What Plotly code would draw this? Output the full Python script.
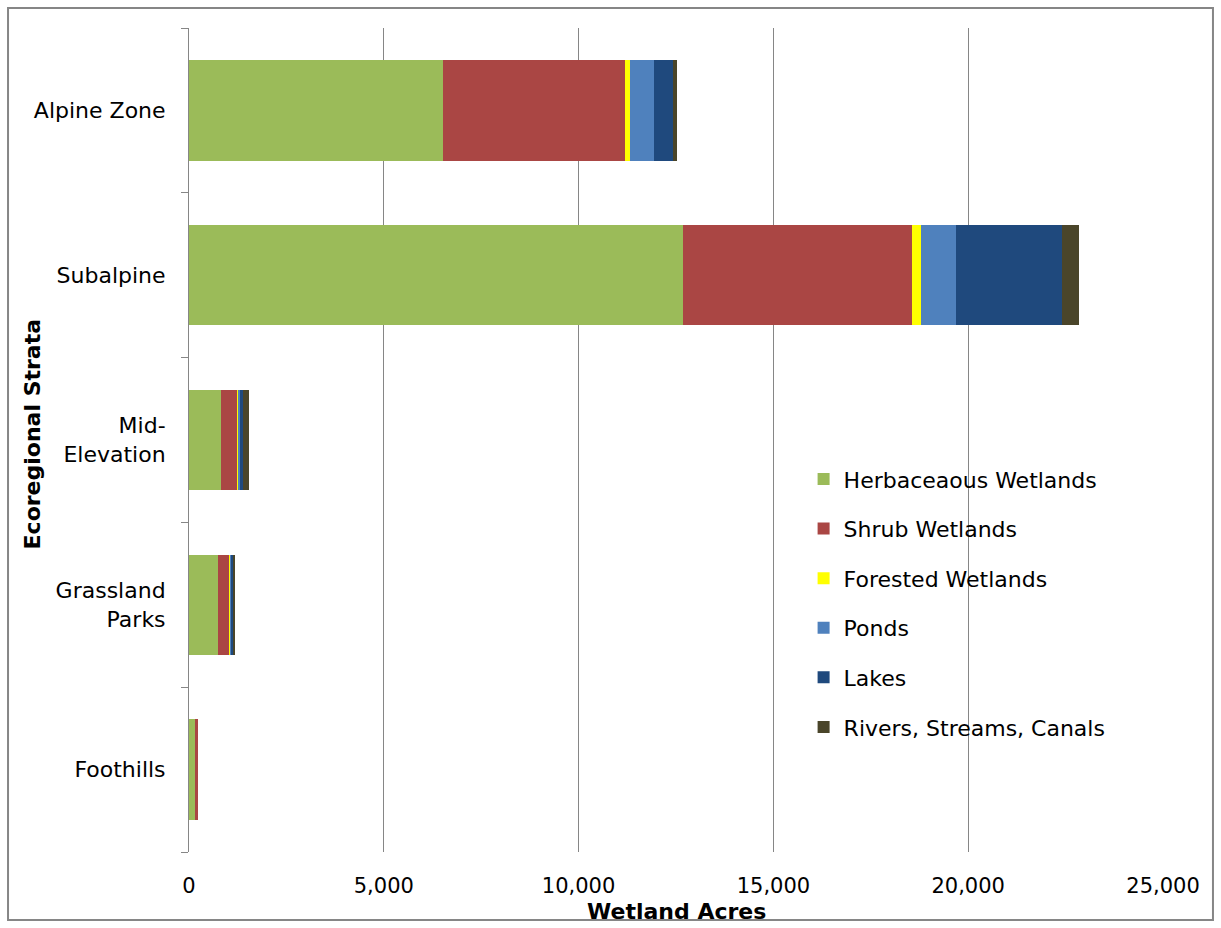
import plotly.graph_objects as go

categories = ["Foothills", "Grassland<br>Parks", "Mid-<br>Elevation", "Subalpine", "Alpine Zone"]
herbaceous = [160, 750, 820, 12680, 6520]
shrub = [60, 300, 420, 5870, 4660]
forested = [0, 10, 25, 230, 135]
ponds = [0, 40, 35, 915, 620]
lakes = [0, 45, 90, 2705, 495]
rivers = [0, 25, 150, 450, 105]

series = [
    ("Herbaceaous Wetlands", herbaceous, "#9BBB59"),
    ("Shrub Wetlands", shrub, "#AA4644"),
    ("Forested Wetlands", forested, "#FFFF00"),
    ("Ponds", ponds, "#4F81BD"),
    ("Lakes", lakes, "#1F497D"),
    ("Rivers, Streams, Canals", rivers, "#4A452A"),
]

fig = go.Figure()
for i, (name, vals, col) in enumerate(series):
    fig.add_trace(go.Bar(
        y=categories, x=vals, name=name, orientation="h",
        marker=dict(color=col, line=dict(width=0)),
        legendgroup=f"g{i}",
    ))

font_family = "DejaVu Sans, sans-serif"
fig.update_layout(
    barmode="stack",
    bargap=0.39,
    width=1221, height=928,
    margin=dict(l=189, r=58, t=28, b=76),
    plot_bgcolor="white", paper_bgcolor="white",
    font=dict(family=font_family, size=22, color="#000000"),
    legend=dict(
        x=0.631, y=0.478, xanchor="left", yanchor="top",
        font=dict(size=22), tracegroupgap=18,
        bgcolor="rgba(0,0,0,0)",
    ),
    xaxis=dict(
        range=[0, 25000], tickvals=[0, 5000, 10000, 15000, 20000, 25000],
        ticktext=["0", "5,000", "10,000", "15,000", "20,000", "25,000"],
        showgrid=True, gridcolor="#868686", gridwidth=1,
        zeroline=False, showline=False, ticks="",
        tickfont=dict(size=21), ticklabelstandoff=19,
    ),
    yaxis=dict(
        categoryorder="array", categoryarray=categories,
        showline=True, linecolor="#868686", linewidth=1,
        ticks="outside", tickson="boundaries", ticklen=7, tickcolor="#868686",
        tickfont=dict(size=22), ticklabelstandoff=18,
    ),
    annotations=[
        dict(text="<b>Wetland Acres</b>", xref="paper", yref="paper",
             x=0.5, y=-0.0728, xanchor="center", yanchor="middle",
             showarrow=False, font=dict(size=22)),
        dict(text="<b>Ecoregional Strata</b>", xref="paper", yref="paper",
             x=-0.161, y=0.507, xanchor="center", yanchor="middle",
             textangle=-90, showarrow=False, font=dict(size=22)),
    ],
    shapes=[dict(
        type="rect", xref="paper", yref="paper",
        x0=-0.1858, x1=1.0513, y0=-0.0825, y1=1.0243,
        line=dict(color="#868686", width=2), fillcolor="rgba(0,0,0,0)",
    )],
)

fig.write_html("out.html")
